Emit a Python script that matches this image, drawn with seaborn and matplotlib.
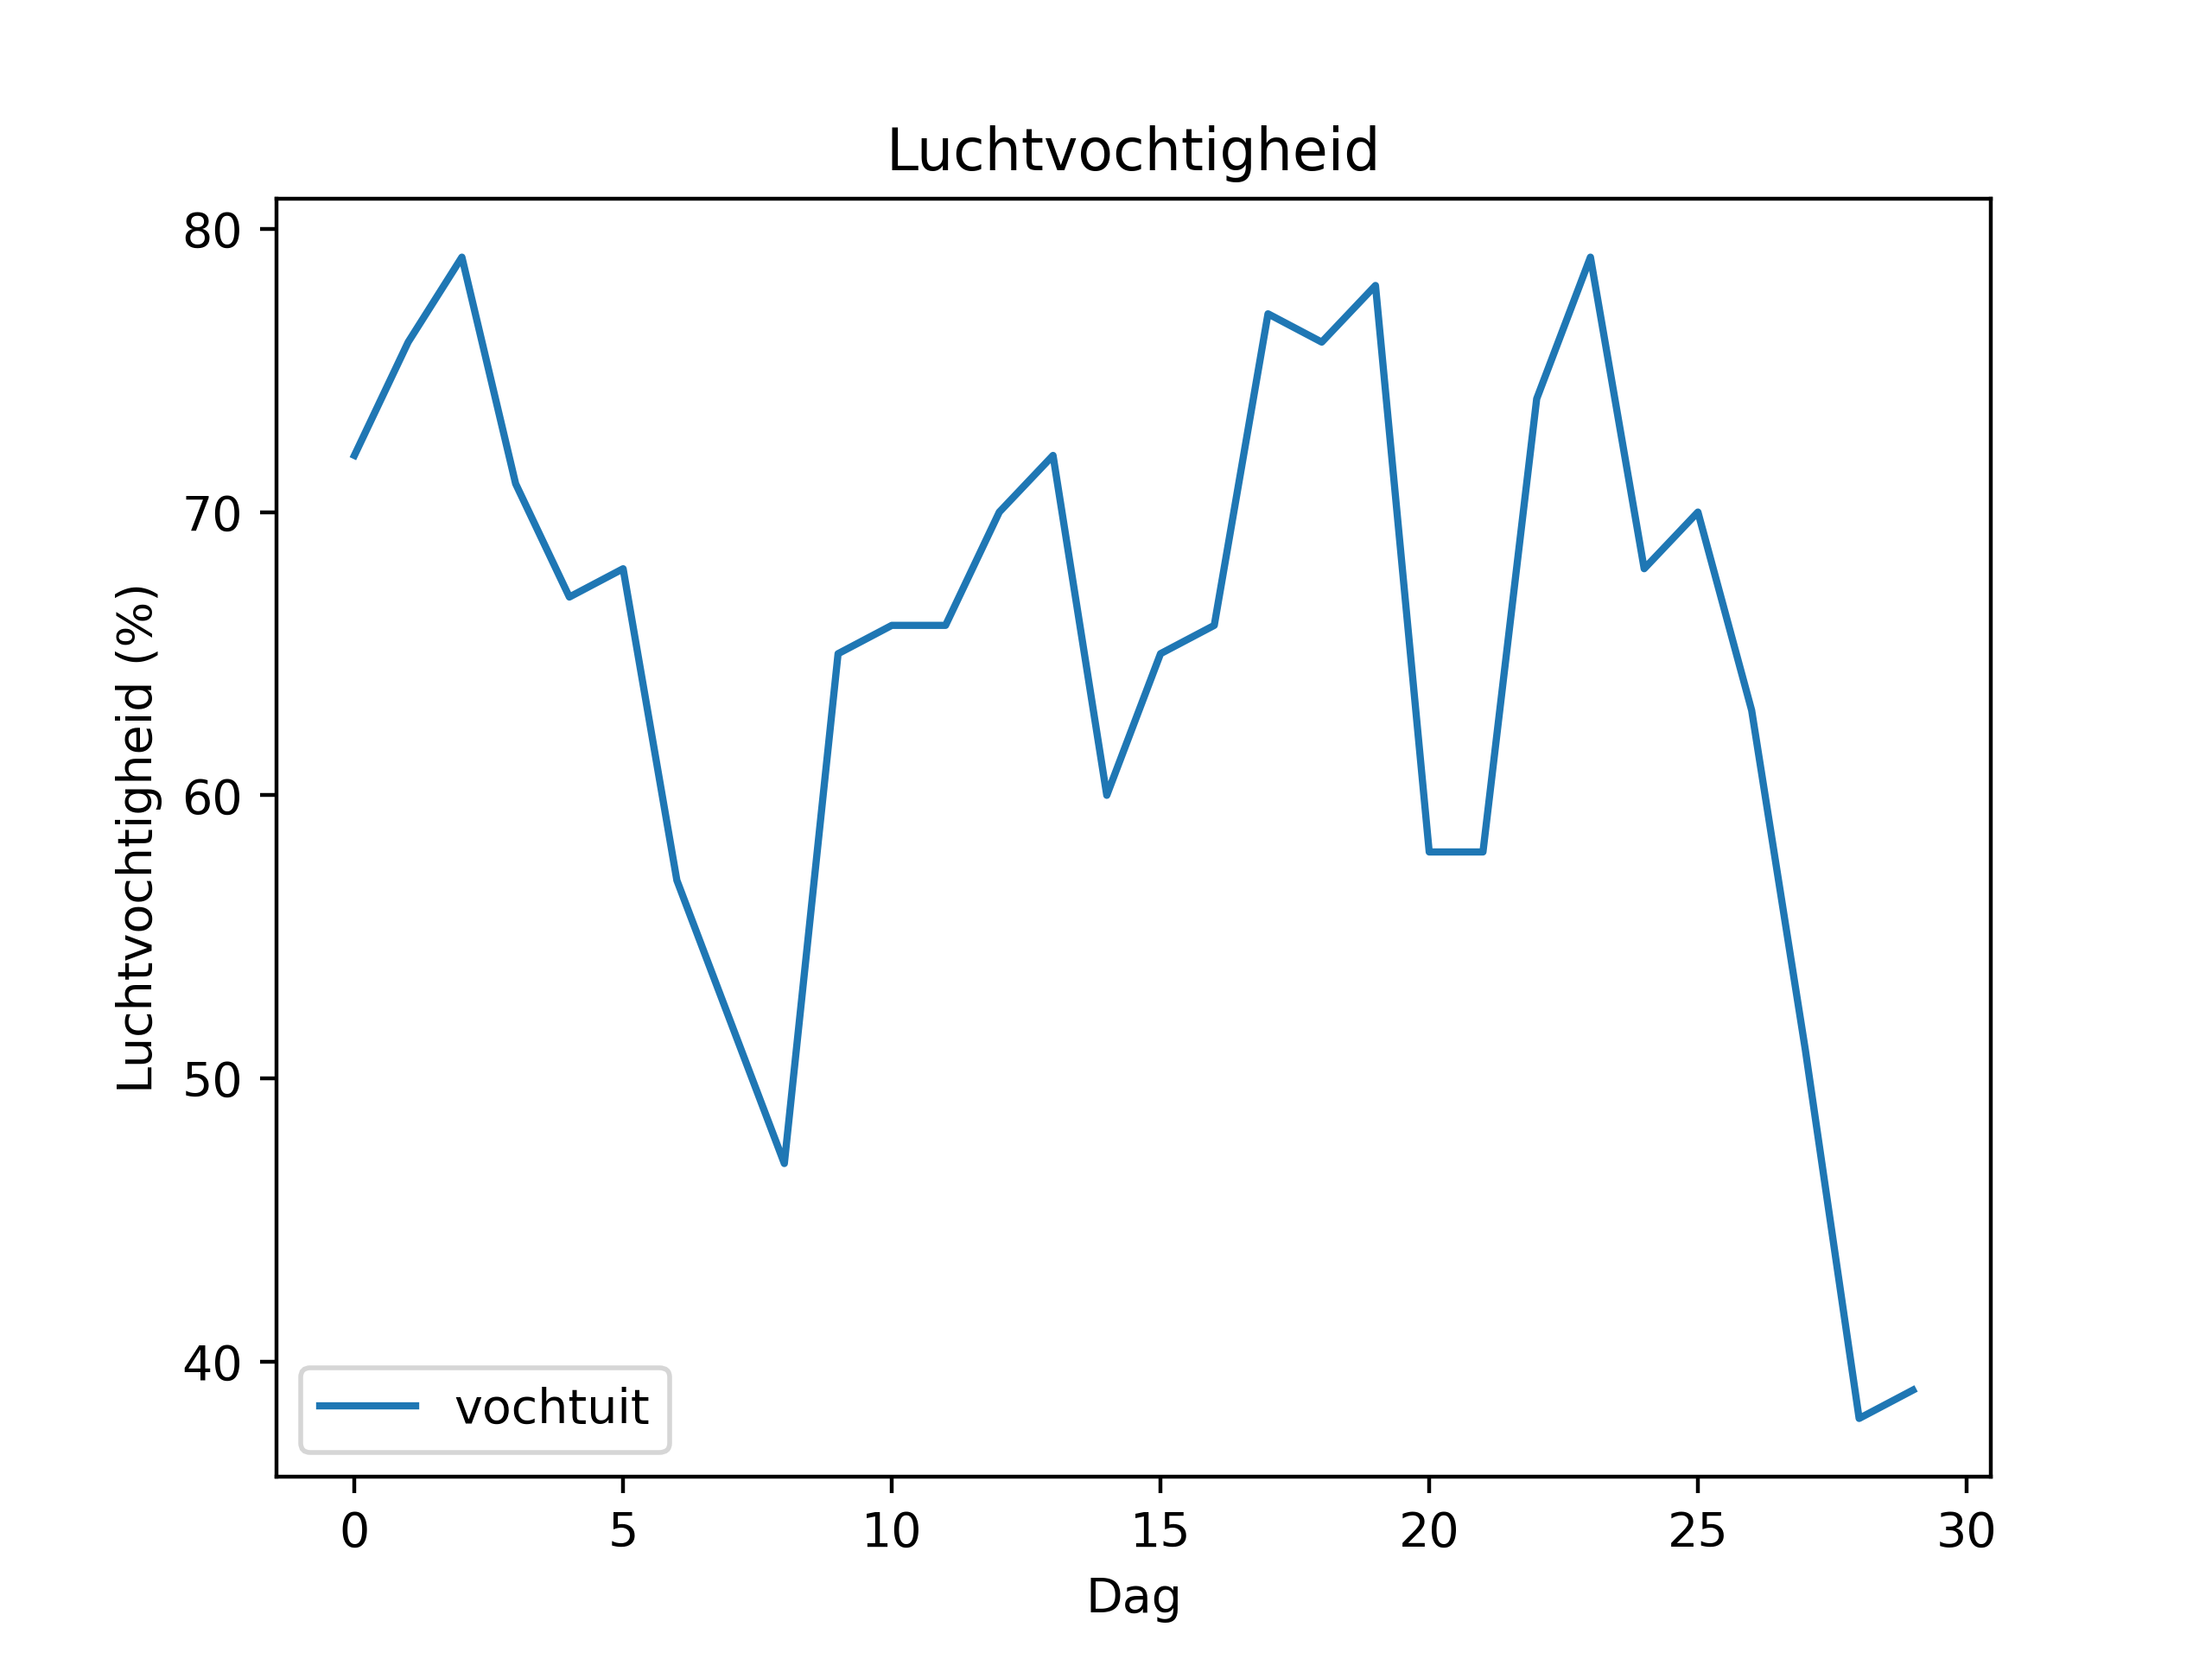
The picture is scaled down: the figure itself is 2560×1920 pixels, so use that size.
import matplotlib
matplotlib.use("Agg")
import matplotlib.pyplot as plt
import seaborn as sns
import pandas as pd

dagen = list(range(30))
vochtigheid = [72, 76, 79, 71, 67, 68, 57, 52, 47, 65, 66, 66, 70, 72, 60,
               65, 66, 77, 76, 78, 58, 58, 74, 79, 68, 70, 63, 51, 38, 39]

df = pd.DataFrame({"Dag": dagen, "vochtigheid": vochtigheid})

fig, ax = plt.subplots(figsize=(6.4, 4.8), dpi=400)
sns.lineplot(data=df, x="Dag", y="vochtigheid", ax=ax, label="vochtuit", color="#1f77b4")
ax.set_title("Luchtvochtigheid")
ax.set_xlabel("Dag")
ax.set_ylabel("Luchtvochtigheid (%)")
ax.legend(loc="lower left")
fig.savefig("out.png", dpi=400)
